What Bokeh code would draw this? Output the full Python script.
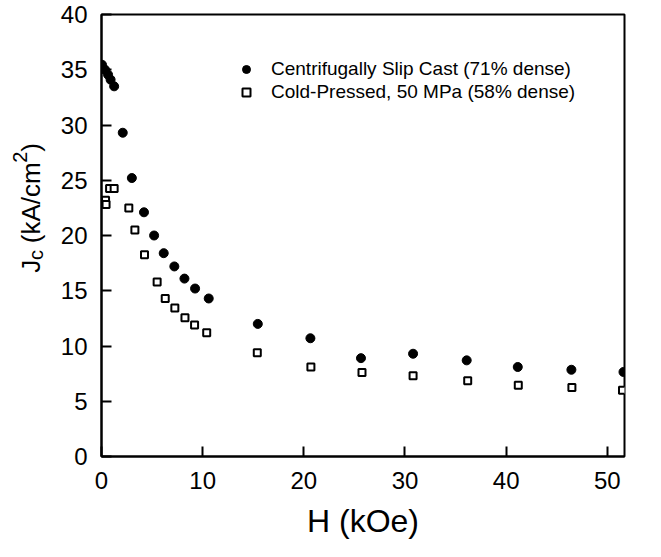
import math
from bokeh.plotting import figure
from bokeh.layouts import row
from bokeh.models import Range1d, FixedTicker, Legend, LegendItem, ColumnDataSource
from bokeh.core.properties import value
from bokeh.embed import file_html
from bokeh.resources import INLINE

# Centrifugally slip cast (71% dense)
h_slip = [0.05, 0.35, 0.65, 0.9, 1.25, 2.1, 3.0, 4.2, 5.2, 6.15, 7.2, 8.2, 9.25, 10.6,
          15.45, 20.65, 25.65, 30.8, 36.1, 41.15, 46.45, 51.6]
jc_slip = [35.45, 35.0, 34.55, 34.1, 33.5, 29.3, 25.2, 22.1, 20.0, 18.4, 17.2, 16.1, 15.2, 14.3,
           12.0, 10.7, 8.9, 9.3, 8.7, 8.1, 7.85, 7.65]

# Cold-pressed, 50 MPa (58% dense)
h_cold = [0.4, 0.45, 0.8, 1.25, 2.7, 3.3, 4.25, 5.5, 6.3, 7.25, 8.25, 9.2, 10.4,
          15.4, 20.7, 25.75, 30.8, 36.2, 41.2, 46.5, 51.5]
jc_cold = [23.2, 22.8, 24.25, 24.25, 22.5, 20.5, 18.25, 15.8, 14.3, 13.45, 12.55, 11.9, 11.2,
           9.4, 8.1, 7.6, 7.3, 6.85, 6.45, 6.25, 6.0]

x_ticks = [0, 10, 20, 30, 40, 50]
y_ticks = [0, 5, 10, 15, 20, 25, 30, 35, 40]

label_slip = "Centrifugally Slip Cast (71% dense)"
label_cold = "Cold-Pressed, 50 MPa (58% dense)"
x_title = "H (kOe)"
# y title "Jc (kA/cm2)": main text, subscript, text, superscript, text
y_title_parts = ["J", "c", "(kA/cm", "2", ")"]

FONT = "Liberation Sans"

W, H = 645, 541
LW = 55                      # width of the strip holding the y title
BL, BR, BT, BB = 101 - LW, 21, 14, 77

# ---------------- main plot ----------------
p = figure(width=W - LW, height=H, output_backend="svg", toolbar_location=None,
           x_range=Range1d(0, 51.7), y_range=Range1d(0, 40),
           min_border_left=BL, min_border_right=BR, min_border_top=BT, min_border_bottom=BB)
p.background_fill_color = "white"
p.border_fill_color = "white"
p.grid.visible = False
p.outline_line_color = "black"
p.outline_line_width = 2

for ax in (p.xaxis[0], p.yaxis[0]):
    ax.axis_line_width = 2
    ax.axis_line_color = "black"
    ax.major_tick_in = 10
    ax.major_tick_out = 0
    ax.major_tick_line_width = 2
    ax.minor_tick_in = 0
    ax.minor_tick_out = 0
    ax.major_label_text_font = FONT
    ax.major_label_text_font_size = "24px"
    ax.major_label_text_color = "black"

p.xaxis.ticker = FixedTicker(ticks=x_ticks)
p.yaxis.ticker = FixedTicker(ticks=y_ticks)
p.xaxis.major_label_standoff = 15
p.yaxis.major_label_standoff = 14

p.xaxis.axis_label = x_title
p.xaxis.axis_label_text_font = FONT
p.xaxis.axis_label_text_font_size = "32px"
p.xaxis.axis_label_text_font_style = "normal"
p.xaxis.axis_label_text_color = "black"
p.xaxis.axis_label_standoff = 11
p.yaxis.axis_label = None

src_slip = ColumnDataSource(dict(x=h_slip, y=jc_slip))
src_cold = ColumnDataSource(dict(x=h_cold, y=jc_cold))

r_cold = p.scatter("x", "y", source=src_cold, marker="square", size=7,
                   fill_color="white", line_color="black", line_width=2)
r_slip = p.scatter("x", "y", source=src_slip, marker="circle", size=9,
                   fill_color="black", line_color="black", line_width=1)

legend = Legend(items=[LegendItem(label=label_slip, renderers=[r_slip]),
                       LegendItem(label=label_cold, renderers=[r_cold])],
                location=(135, 353), orientation="vertical",
                border_line_color=None, background_fill_alpha=0,
                padding=0, margin=0, spacing=0,
                glyph_width=20, glyph_height=20, label_height=23, label_standoff=15,
                label_text_font=FONT, label_text_font_size="19px", label_text_color="black")
p.add_layout(legend, "center")

# ---------------- y-title strip ----------------
# The row aligns this strip's frame with the main frame (canvas rows BT..H-BB),
# so its y range is expressed as "pixels from the canvas bottom".
t = figure(width=LW, height=H, output_backend="svg", toolbar_location=None,
           x_range=Range1d(0, LW), y_range=Range1d(BB, H - BT),
           x_axis_type=None, y_axis_type=None,
           min_border_left=0, min_border_right=0, min_border_top=BT, min_border_bottom=BB)
t.outline_line_color = None
t.grid.visible = False
t.background_fill_color = "white"
t.border_fill_color = "white"

base_x = 30            # canvas x of the rotated title's baseline
start_cy = 277         # canvas y where the title starts (its lower end)
big, small = 26, 20
sizes = [big, small, big, small, big]
offsets = [0, 5, 0, -11, 0]                 # baseline shift: + = subscript, - = superscript
adv_px = [0.500 * big, 0.500 * small + 0.278 * big, 3.111 * big + 1, 0.556 * small, 0.333 * big]

xs, ys, fss = [], [], []
along = 0.0
for part, fs, off, a in zip(y_title_parts, sizes, offsets, adv_px):
    xs.append(base_x + off)
    ys.append(H - (start_cy - along))
    fss.append(f"{fs}px")
    along += a

t.text(x=xs, y=ys, text=y_title_parts, angle=math.pi / 2,
       text_font=value(FONT), text_font_size=fss, text_align="left",
       text_baseline="alphabetic", text_color="black")

layout = row(t, p)
open("out.html", "w").write(file_html(layout, INLINE))
